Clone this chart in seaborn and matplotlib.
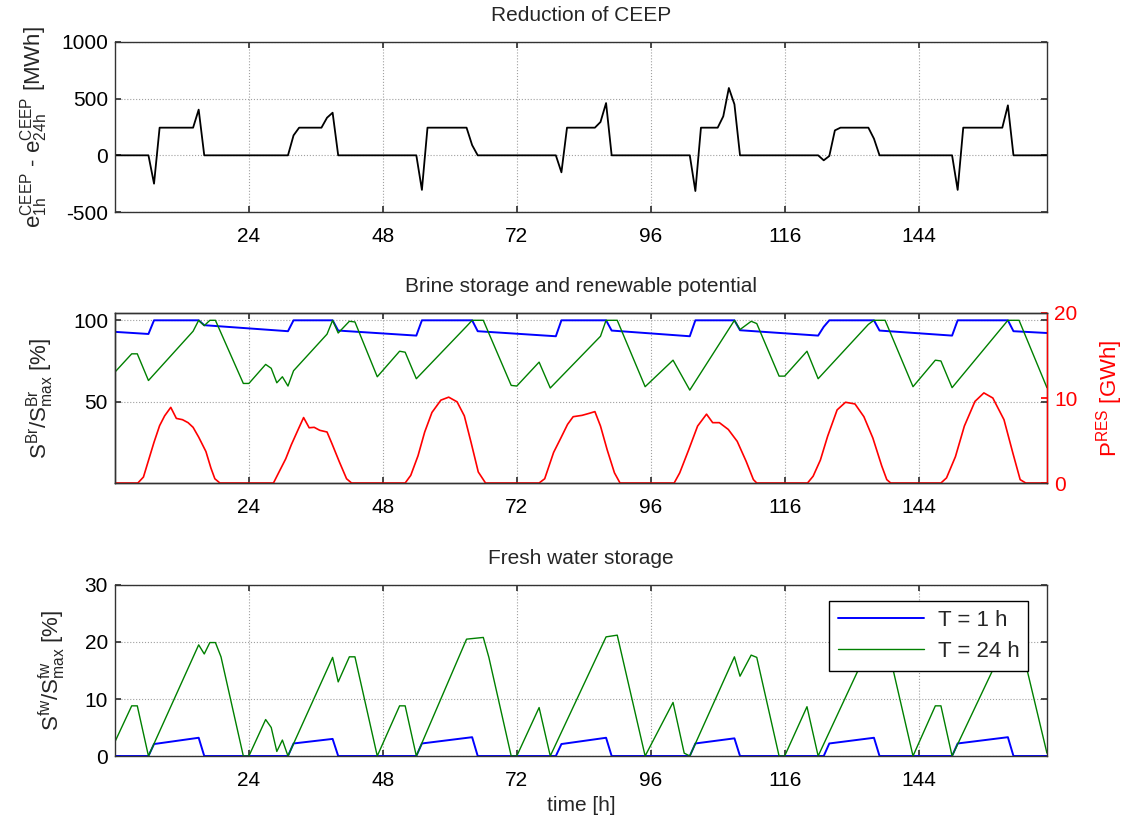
import matplotlib
matplotlib.use("Agg")
import matplotlib.pyplot as plt
import seaborn as sns

# ---- values (time in hours) ----
ceep_t = [0, 6, 7, 8, 14, 15, 16, 31, 32, 33, 37, 38, 39, 40, 54, 55, 56, 63, 64, 65,
          79, 80, 81, 86, 87, 88, 89, 103, 104, 105, 108, 109, 110, 111, 112,
          126, 127, 128, 129, 130, 135, 136, 137, 150, 151, 152, 159, 160, 161, 167]
ceep_v = [0, 0, -250, 244, 244, 403, 0, 0, 176, 244, 244, 332, 376, 0, 0, -305, 244, 244, 90, 0,
          0, -150, 244, 244, 294, 461, 0, 0, -315, 244, 244, 344, 594, 450, 0,
          0, -44, -6, 220, 244, 244, 147, 0, 0, -305, 244, 244, 441, 0, 0]

# brine storage, T = 1 h
br1_t = [0, 6, 7, 15, 16, 31, 32, 39, 40, 54, 55, 64, 65, 79, 80, 88, 89, 103, 104, 111, 112,
         126, 127, 128, 136, 137, 150, 151, 160, 161, 167]
br1_v = [92.9, 91.6, 100, 100, 97.0, 93.3, 100, 100, 93.7, 90.6, 100, 100, 93.3, 90.2, 100, 100,
         93.7, 90.2, 100, 100, 93.9, 90.6, 96, 100, 100, 93.7, 90.6, 100, 100, 93.3, 92.2]

# brine storage, T = 24 h
br24_t = [0, 3, 4, 6, 14, 15, 16, 17, 18, 23, 24, 27, 28, 29, 30, 31, 32, 38, 39, 40,
          42, 43, 47, 51, 52, 54, 63, 64, 66, 71, 72, 76, 78, 87, 88, 90, 95, 100, 103, 111,
          112, 114, 115, 119, 120, 124, 126, 135, 136, 138, 143, 147, 148, 150, 160, 162, 167]
br24_v = [68.2, 79.4, 79.4, 63.0, 93.3, 100, 96.7, 100, 100, 61.2, 61.2, 72.9, 70.5, 61.6, 65.3,
          59.6, 69.0, 91.5, 100, 92.2, 99.4, 99.0, 65.3, 81.0, 80.4, 64.1, 96.3, 100, 100, 60.0,
          59.6, 74.3, 58.4, 90.2, 100, 100, 59.2, 75.5, 57.1, 100, 94.3, 99.4, 98.0, 65.7, 65.7,
          81.0, 64.1, 97.5, 100, 100, 59.2, 75.5, 75.0, 58.6, 100, 100, 58.6]

# renewable potential [GWh]
res_t = [0, 4.1, 5.1, 7, 8, 8.9, 10, 11, 12.1, 13.1, 14, 15, 16.3, 17.2, 17.9, 18.8,
         28.4, 29.4, 30.6, 31.6, 32.9, 33.8, 34.8, 35.7, 36.7, 38, 38.9, 40.2, 41.5, 42.4,
         52, 53, 54.3, 55.5, 56.8, 58.4, 59.8, 61.3, 62.6, 63.8, 65.1, 66.4,
         76, 77, 78.6, 79.9, 81.1, 82.1, 83.7, 85, 86, 87, 88.2, 89.5, 90.5,
         100.2, 101.2, 102.8, 104.4, 106, 107.1, 108.3, 109.9, 111.5, 113.1, 114.4, 115,
         124.1, 125.1, 126.4, 127.7, 129.4, 130.9, 132.6, 134.2, 135.8, 137.4, 138.3, 139,
         148, 149, 150.6, 152.2, 154.1, 155.7, 157.3, 159.3, 160.9, 162.2, 163.2, 167]
res_v = [0, 0, 0.7, 4.8, 6.75, 7.9, 8.9, 7.6, 7.45, 7.1, 6.55, 5.4, 3.7, 1.75, 0.5, 0,
         0, 1.3, 2.85, 4.5, 6.4, 7.7, 6.5, 6.55, 6.2, 6.0, 4.6, 2.5, 0.5, 0,
         0, 0.9, 3.2, 6.0, 8.3, 9.75, 10.1, 9.55, 7.9, 4.8, 1.3, 0,
         0, 0.5, 3.6, 5.3, 6.9, 7.8, 7.96, 8.2, 8.4, 6.7, 3.9, 1.2, 0,
         0, 1.2, 3.9, 6.7, 8.1, 7.1, 7.1, 6.3, 4.9, 2.55, 0.4, 0,
         0, 0.8, 2.7, 5.5, 8.6, 9.5, 9.3, 7.8, 5.3, 2.0, 0.4, 0,
         0, 0.6, 3.1, 6.7, 9.6, 10.6, 10.0, 7.45, 3.5, 0.4, 0, 0]

# fresh water storage, T = 1 h
fw1_t = [0, 6, 7, 15, 16, 31, 32, 39, 40, 54, 55, 64, 65, 79, 80, 88, 89, 103, 104, 111, 112,
         127, 128, 136, 137, 150, 151, 160, 161, 167]
fw1_v = [0, 0, 2.1, 3.2, 0, 0, 2.2, 3.0, 0, 0, 2.2, 3.3, 0, 0, 2.1, 3.2, 0, 0, 2.2, 3.1, 0,
         0, 2.2, 3.2, 0, 0, 2.2, 3.3, 0, 0]

# fresh water storage, T = 24 h
fw24_t = [0, 3, 4, 6, 15, 16, 17, 18, 19, 23, 24, 27, 28, 29, 30, 31, 39, 40, 42, 43,
          47, 51, 52, 54, 63, 64, 66, 67, 71, 72, 76, 78, 88, 90, 95, 100, 102, 103, 111, 112,
          114, 115, 119, 120, 124, 126, 136, 138, 143, 147, 148, 150, 160, 162, 167]
fw24_v = [2.5, 8.8, 8.8, 0, 19.5, 17.9, 19.9, 19.9, 17.4, 0, 0, 6.4, 5.0, 0.8, 2.8, 0, 17.3, 13.0,
          17.4, 17.4, 0, 8.8, 8.8, 0, 20.5, 20.6, 20.8, 17.3, 0, 0, 8.5, 0, 20.9, 21.2, 0, 9.4,
          0.5, 0, 17.4, 14.0, 17.7, 17.3, 0, 0, 8.65, 0, 21.0, 21.2, 0, 8.8, 8.8, 0, 20.7, 21.0, 0.5]

TICK_POS = [24, 48, 72, 96, 120, 144]
TICK_LABELS = ["24", "48", "72", "96", "116", "144"]

BLUE = "#0000ff"
GREEN = "#008000"
RED = "#ff0000"
FS = 15

sns.set_theme(style="white")
plt.rcParams.update({
    "font.family": ["Liberation Sans", "DejaVu Sans"],
    "font.size": FS,
    "axes.titlesize": FS,
    "axes.labelsize": FS,
    "xtick.labelsize": FS,
    "ytick.labelsize": FS,
    "axes.unicode_minus": False,
    "axes.edgecolor": "#333333",
    "axes.linewidth": 1.0,
    "xtick.direction": "in",
    "ytick.direction": "in",
    "xtick.top": True,
    "ytick.right": True,
    "xtick.bottom": True,
    "ytick.left": True,
    "xtick.major.size": 4,
    "ytick.major.size": 4,
    "xtick.major.pad": 11,
    "ytick.major.pad": 5,
    "xtick.color": "#333333",
    "ytick.color": "#333333",
    "xtick.labelcolor": "black",
    "ytick.labelcolor": "black",
    "grid.color": "#a0a0a0",
    "grid.linestyle": ":",
    "grid.linewidth": 0.8,
    "mathtext.fontset": "custom",
    "mathtext.rm": "Liberation Sans",
    "mathtext.it": "Liberation Sans:italic",
})

fig = plt.figure(figsize=(11.26, 8.23), dpi=100)
L, W, H = 0.1021, 0.8277, 0.2066
ax1 = fig.add_axes([L, 0.7424, W, H])
ax2 = fig.add_axes([L, 0.4131, W, H])
ax3 = fig.add_axes([L, 0.0814, W, 0.2078])


def style_x(ax):
    ax.set_xlim(0, 167)
    ax.set_xticks(TICK_POS)
    ax.set_xticklabels(TICK_LABELS)
    ax.grid(True)


# --- top: reduction of CEEP ---
sns.lineplot(x=ceep_t, y=ceep_v, ax=ax1, color="black", linewidth=1.3,
             estimator=None, sort=False)
style_x(ax1)
ax1.set_ylim(-500, 1000)
ax1.set_yticks([-500, 0, 500, 1000])
ax1.set_title("Reduction of CEEP", pad=15)
ax1.set_ylabel(r"$\mathrm{e_{1h}^{CEEP}}$ - $\mathrm{e_{24h}^{CEEP}}$ [MWh]", labelpad=8,
               fontsize=16)

# --- middle: brine storage and renewable potential ---
sns.lineplot(x=br1_t, y=br1_v, ax=ax2, color=BLUE, linewidth=1.4,
             estimator=None, sort=False)
sns.lineplot(x=br24_t, y=br24_v, ax=ax2, color=GREEN, linewidth=1.0,
             estimator=None, sort=False)
style_x(ax2)
ax2.set_ylim(0, 104.5)
ax2.set_yticks([50, 100])
ax2.set_title("Brine storage and renewable potential", pad=15)
ax2.set_ylabel(r"$\mathrm{S^{Br}/S^{Br}_{max}}$ [%]", labelpad=12, fontsize=16)

ax2r = ax2.twinx()
sns.lineplot(x=res_t, y=res_v, ax=ax2r, color=RED, linewidth=1.2,
             estimator=None, sort=False)
ax2r.set_xlim(0, 167)
ax2r.set_ylim(0, 20)
ax2r.set_yticks([0, 10, 20])
ax2r.grid(False)
ax2r.tick_params(axis="y", colors=RED, labelcolor=RED, direction="in", length=4, pad=5)
ax2r.spines["right"].set_color(RED)
ax2r.set_ylabel(r"$\mathrm{P^{RES}}$ [GWh]", color=RED, labelpad=12, fontsize=16)
ax2.tick_params(axis="y", right=True)

# --- bottom: fresh water storage ---
sns.lineplot(x=fw1_t, y=fw1_v, ax=ax3, color=BLUE, linewidth=1.4,
             estimator=None, sort=False, label="T = 1 h")
sns.lineplot(x=fw24_t, y=fw24_v, ax=ax3, color=GREEN, linewidth=1.0,
             estimator=None, sort=False, label="T = 24 h")
style_x(ax3)
ax3.set_ylim(0, 30)
ax3.set_yticks([0, 10, 20, 30])
ax3.set_title("Fresh water storage", pad=15)
ax3.set_ylabel(r"$\mathrm{S^{fw}/S^{fw}_{max}}$ [%]", labelpad=12, fontsize=16)
ax3.set_xlabel("time [h]", labelpad=4)
leg = ax3.legend(loc="upper right", bbox_to_anchor=(0.992, 0.97), frameon=True,
                 fancybox=False, edgecolor="black", framealpha=1, handlelength=3.9,
                 borderpad=0.4, labelspacing=0.45, handletextpad=0.6, fontsize=16)
leg.get_frame().set_linewidth(1.0)

fig.savefig("out.png", dpi=100)
